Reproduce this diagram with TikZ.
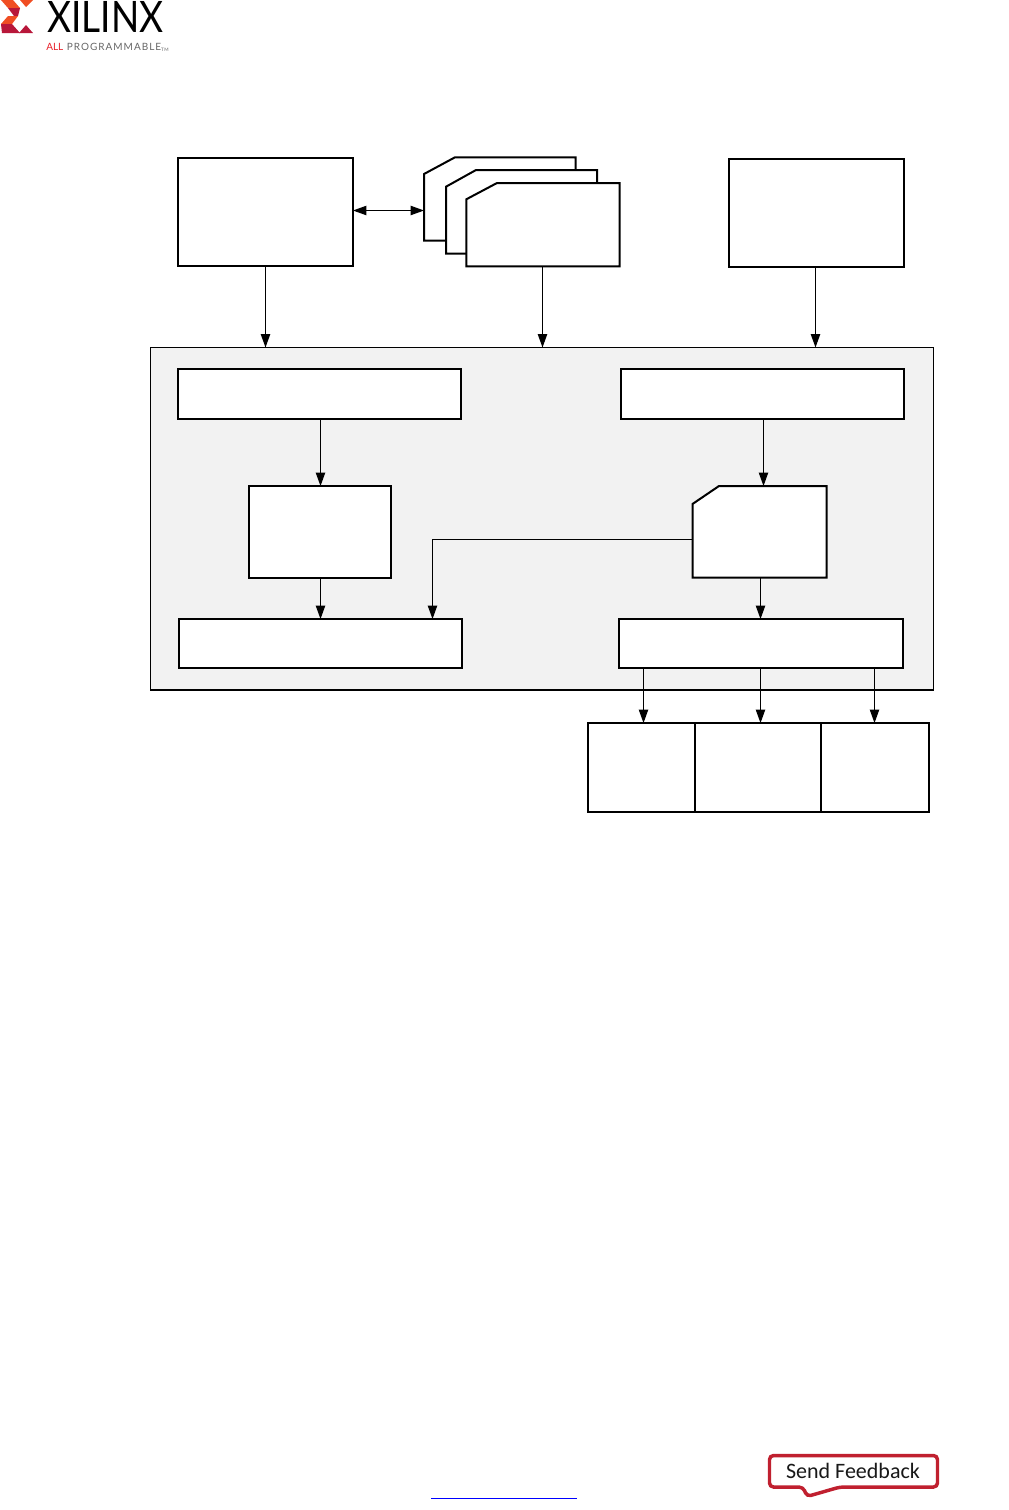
\documentclass[tikz,border=0pt]{standalone}
\usepackage{fontspec}
\setmainfont{Carlito}
\newfontfamily\logofont{Lato}
\newfontfamily\logospaced[LetterSpace=10]{Lato}
\usetikzlibrary{arrows.meta,calc}
\definecolor{panelgray}{HTML}{F2F2F2}
\definecolor{fbred}{HTML}{C0202F}
\definecolor{xorange}{HTML}{F04E23}
\definecolor{xred}{HTML}{B8173A}
\definecolor{xmid}{HTML}{E8202A}
\tikzset{
  px/.style={x=0.75pt,y=-0.75pt},
  blockbox/.style={draw=black,fill=white,line width=1.5pt,inner sep=0pt,outer sep=0pt,anchor=north west},
  cardshape/.style={draw=black,fill=white,line width=1.5pt,line join=miter},
  flow/.style={draw=black,line width=0.75pt,-{Triangle[length=10pt,width=7pt]}},
  flowboth/.style={draw=black,line width=0.75pt,{Triangle[length=10pt,width=7pt]}-{Triangle[length=10pt,width=7pt]}}
}
\newcommand{\pxbox}[5]{\node[blockbox,minimum width=#4*0.75pt,minimum height=#5*0.75pt] (#1) at (#2,#3) {};}
\begin{document}
\begin{tikzpicture}[px]
\useasboundingbox (0,0) rectangle (1008,1510);
% logo
\fill[xorange] (1,0) -- (13,0) -- (20,8) -- (8,8) -- cycle;
\fill[xred] (8,8) -- (20,8) -- (18,16) -- (14,16) -- cycle;
\fill[xorange] (8,16) -- (18,16) -- (12,24) -- (1,24) -- cycle;
\fill[xred] (1,24) -- (12,24) -- (20,33) -- (2,33) -- cycle;
\fill[xorange] (20,0) -- (33,0) -- (26,7) -- cycle;
\fill[xred] (19,33) -- (33,33) -- (26,25) -- cycle;
\node[anchor=base west,inner sep=0pt,font=\logofont\fontsize{32.5}{32.5}\selectfont] (xilinx) at (47,32.5) {\scalebox{.855}[1]{XILINX}};
\node[anchor=base west,inner sep=0pt,font=\logospaced\fontsize{7.5}{7.5}\selectfont,text=black!60] (allprog) at (46,50.5) {\textcolor{xmid}{A}\textcolor{xmid}{L}\textcolor{xmid}{L} PROGRAMMABLE{\fontsize{3.5}{3.5}\selectfont\raisebox{-1pt}{TM}}};
% panel
\node[draw=black,fill=panelgray,line width=0.75pt,inner sep=0pt,outer sep=0pt,anchor=north west,minimum width=783*0.75pt,minimum height=342.5*0.75pt] (panel) at (150.5,347.5) {};
\draw[line width=1.5pt] (panel.south west) -- (panel.south east);
% top row
\pxbox{host}{178}{158}{175}{108}
\pxbox{right}{729}{159}{175}{108}
\draw[cardshape] (424,174) -- (455,157.3) -- (575.7,157.3) -- (575.7,240.7) -- (424,240.7) -- cycle;
\draw[cardshape] (446,186.7) -- (476,170) -- (597,170) -- (597,253.7) -- (446,253.7) -- cycle;
\draw[cardshape] (466.3,199.3) -- (497,183) -- (619.5,183) -- (619.5,266.3) -- (466.3,266.3) -- cycle;
\coordinate (cardleft) at (424,210.5);
\coordinate (cardbottom) at (542.5,266.3);
% inner boxes
\pxbox{d}{178}{369}{283}{50}
\pxbox{e}{621}{369}{283}{50}
\pxbox{f}{249}{486}{142}{92}
\pxbox{g}{179}{619}{283}{49}
\pxbox{i}{619}{619}{284}{49}
\draw[cardshape] (692.5,504) -- (719,486) -- (826.5,486) -- (826.5,577.5) -- (692.5,577.5) -- cycle;
\coordinate (hleft) at (692.5,539.5);
\coordinate (hbottom) at (760.5,577.5);
\coordinate (htop) at (763.5,486);
% bottom boxes
\pxbox{j}{588}{723}{107}{89}
\pxbox{k}{695}{723}{126}{89}
\pxbox{l}{821}{723}{108}{89}
% connectors
\draw[flowboth] (host.east |- cardleft) -- (cardleft);
\draw[flow] (host.south) -- (host.south |- panel.north);
\draw[flow] (cardbottom) -- (cardbottom |- panel.north);
\draw[flow] ([xshift=-0.75pt]right.south) -- ([xshift=-0.75pt]right.south |- panel.north);
\coordinate (dout) at (320.5,419);
\draw[flow] (dout) -- (dout |- f.north);
\coordinate (fout) at (320.5,578);
\draw[flow] (fout) -- (fout |- g.north);
\coordinate (gin) at (432.5,619);
\draw[flow] (hleft) -- (hleft -| gin) -- (gin);
\coordinate (eout) at (763.5,419);
\draw[flow] (eout) -- (htop);
\draw[flow] (hbottom) -- (hbottom |- i.north);
\coordinate (iout1) at (643.5,668);
\coordinate (iout2) at (760.5,668);
\coordinate (iout3) at (874.5,668);
\draw[flow] (iout1) -- (iout1 |- j.north);
\draw[flow] (iout2) -- (iout2 |- k.north);
\draw[flow] (iout3) -- (iout3 |- l.north);
% footer
\draw[draw=fbred,line width=2.6pt,rounded corners=3pt,fill=white] (769.5,1455.5) -- (937.5,1455.5) -- (937.5,1487) -- (840,1487) -- (807,1496.5) -- (803,1487) -- (769.5,1487) -- cycle;
\node[font=\fontsize{16.5}{16.5}\selectfont,text=black!90,anchor=base,inner sep=0pt] (feedback) at (853,1478) {Send Feedback};
\coordinate (linkl) at (431,1498);
\coordinate (linkr) at (577,1498);
\draw[draw=blue,line width=0.75pt] (linkl) -- (linkr);
\end{tikzpicture}
\end{document}
